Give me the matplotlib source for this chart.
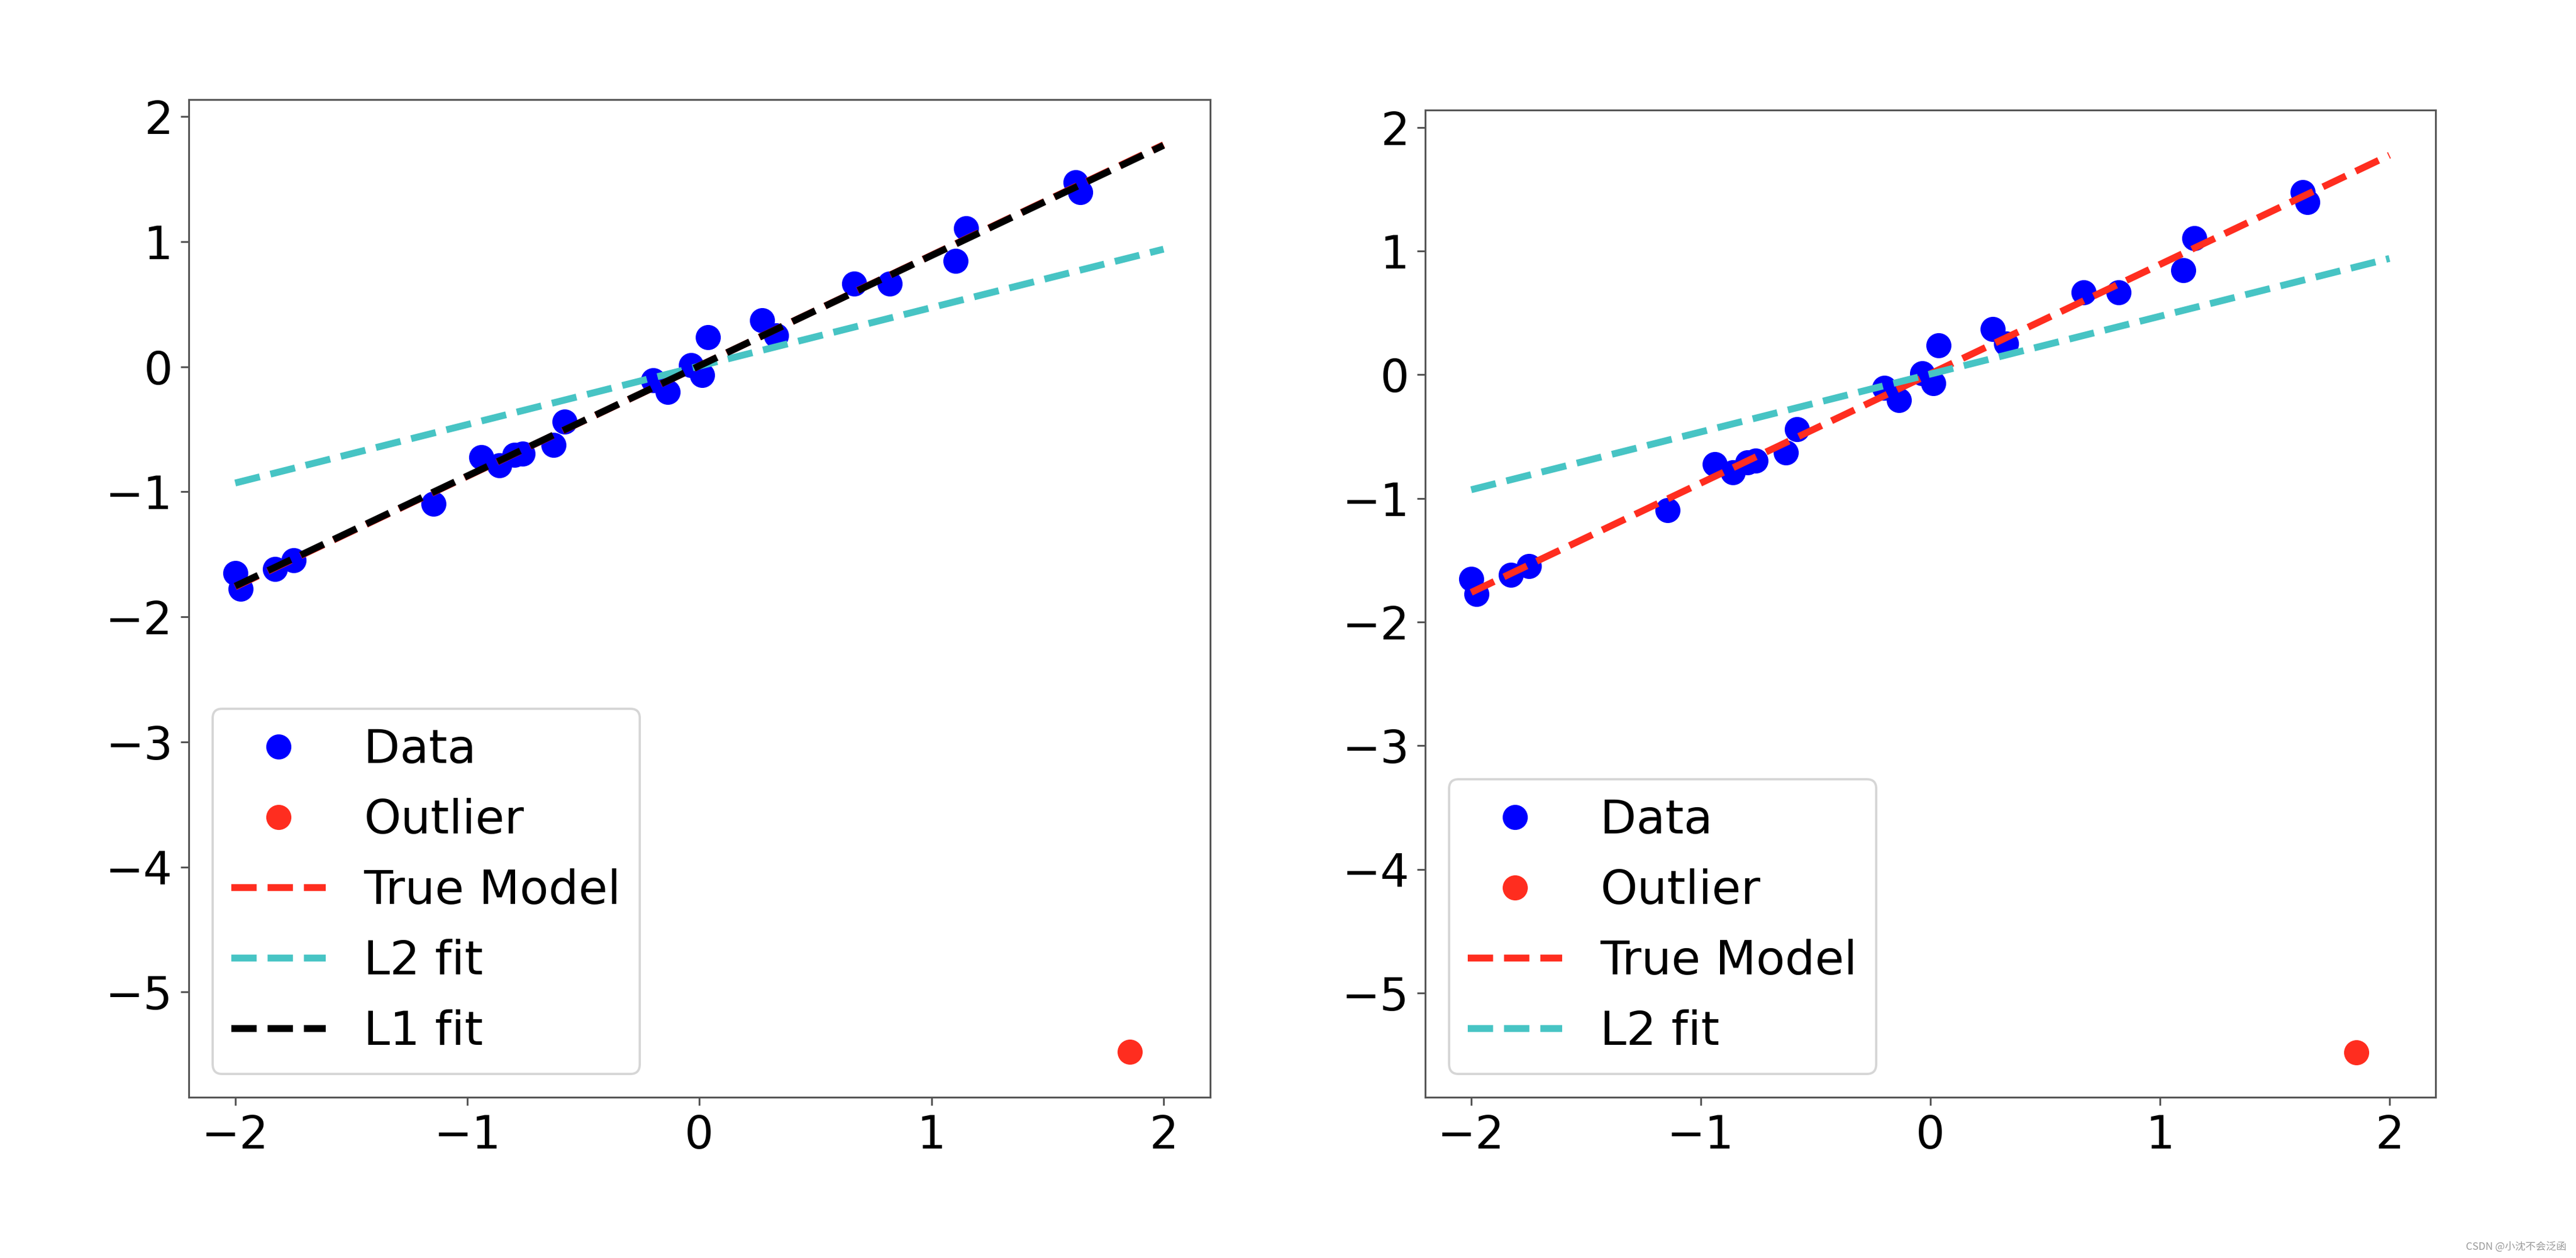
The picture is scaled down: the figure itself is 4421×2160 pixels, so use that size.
import matplotlib
matplotlib.use("Agg")
import matplotlib.pyplot as plt
import numpy as np

# data points
x_data = [-2.00, -1.977, -1.828, -1.748, -1.145, -0.939, -0.861, -0.796, -0.761,
          -0.629, -0.580, -0.199, -0.136, -0.035, 0.013, 0.037, 0.271, 0.331,
          0.667, 0.819, 1.103, 1.149, 1.622, 1.642]
y_data = [-1.65, -1.775, -1.616, -1.547, -1.096, -0.723, -0.789, -0.707, -0.695,
          -0.628, -0.441, -0.107, -0.203, 0.010, -0.069, 0.237, 0.370, 0.250,
          0.664, 0.664, 0.844, 1.105, 1.476, 1.397]
x_outlier = [1.855]
y_outlier = [-5.48]

# fitted lines, evaluated at the ends of the range
x_line = [-2.0, 2.0]
y_true = [-1.76, 1.775]
y_l2 = [-0.93, 0.94]
y_l1 = [-1.755, 1.77]

RED = "#ff2d1f"
CYAN = "#47c4c4"
DPI = 282

plt.rcParams["font.size"] = 20
plt.rcParams["axes.edgecolor"] = "#555555"
plt.rcParams["xtick.color"] = "#555555"
plt.rcParams["ytick.color"] = "#555555"
plt.rcParams["xtick.labelcolor"] = "black"
plt.rcParams["ytick.labelcolor"] = "black"

fig = plt.figure(figsize=(4421 / DPI, 2160 / DPI), dpi=DPI)
ax1 = fig.add_axes([0.0733, 0.1277, 0.3964, 0.7933])
ax2 = fig.add_axes([0.5533, 0.1277, 0.3921, 0.7846])


def draw(ax, with_l1):
    ax.plot(x_data, y_data, "o", color="blue", ms=10, label="Data")
    ax.plot(x_outlier, y_outlier, "o", color=RED, ms=10, label="Outlier")
    ax.plot(x_line, y_true, "--", color=RED, lw=3, label="True Model")
    ax.plot(x_line, y_l2, "--", color=CYAN, lw=3, label="L2 fit")
    if with_l1:
        ax.plot(x_line, y_l1, "--", color="black", lw=3, label="L1 fit")
    ax.set_xticks([-2, -1, 0, 1, 2])
    ax.set_yticks([-5, -4, -3, -2, -1, 0, 1, 2])
    ax.legend(loc="lower left", numpoints=1, fontsize=20.7, labelspacing=0.53)


draw(ax1, True)
draw(ax2, False)

fig.text(4405 / 4421, 1 - 2142 / 2160, "CSDN @小沈不会泛函", ha="right", va="center",
         fontsize=4.5, color="#999999", family=["Noto Sans CJK SC", "DejaVu Sans"])

fig.savefig("out.png", dpi=DPI)
